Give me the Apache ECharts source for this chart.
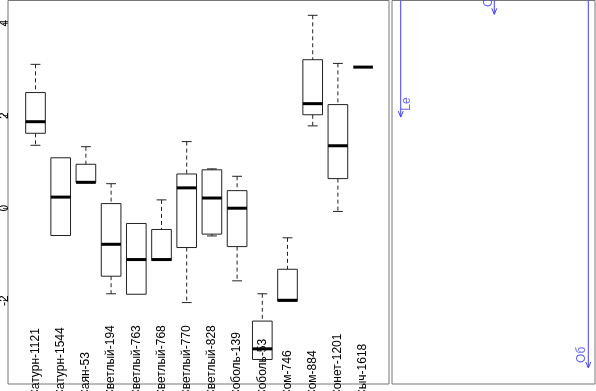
<!DOCTYPE html>
<html>
<head>
<meta charset="utf-8">
<script src="https://cdn.jsdelivr.net/npm/echarts@6/dist/echarts.min.js"></script>
<style>
  html, body { margin: 0; padding: 0; background: #fff; }
  #chart { width: 596px; height: 391px; }
</style>
</head>
<body>
<div id="chart"></div>
<script>
// box plot per sample
const names = ['Сатурн-1121', 'Сатурн-1544', 'Саян-53', 'Светлый-194', 'Светлый-763', 'Светлый-768',
  'Светлый-770', 'Светлый-828', 'Соболь-139', 'Соболь-53', 'Сом-746', 'Сом-884', 'Сонет-1201', 'Сыч-1618']
const whiskerLow = [1.36, -0.59, 0.55, -1.85, -1.86, -1.13, -2.04, -0.60, -1.57, -3.27, -2.01, 1.78, -0.07, 3.05]
const q1 = [1.62, -0.59, 0.55, -1.47, -1.86, -1.13, -0.85, -0.56, -0.83, -3.27, -2.01, 2.02, 0.64, 3.05]
const median = [1.87, 0.24, 0.56, -0.78, -1.11, -1.11, 0.44, 0.22, 0.00, -3.04, -1.99, 2.26, 1.35, 3.05]
const q3 = [2.50, 1.09, 0.95, 0.10, -0.33, -0.46, 0.74, 0.83, 0.38, -2.44, -1.32, 3.21, 2.24, 3.05]
const whiskerHigh = [3.11, 1.09, 1.33, 0.53, -0.33, 0.18, 1.44, 0.85, 0.69, -1.85, -0.64, 4.17, 3.13, 3.05]
const yTicks = [-2, 0, 2, 4]

// arrows in the right panel
const arrowNames = ['Le', 'О', 'Об']
const arrowX = [0.043, 0.504, 0.967]
const arrowEnd = [0.304, 0.036, 0.958]
const arrowLabelX = [0.072, 0.478, 0.936]
const arrowLabelY = [0.27, 0.005, 0.924]

const Y_MIN = -3.8
const Y_MAX = 4.49
const boxColor = '#222'
const blue = '#4040f0'

const chart = echarts.init(document.getElementById('chart'))

function renderBox(params, api) {
  const i = api.value(0)
  const lo = api.coord([i, api.value(1)])
  const b1 = api.coord([i, api.value(2)])
  const md = api.coord([i, api.value(3)])
  const b3 = api.coord([i, api.value(4)])
  const hi = api.coord([i, api.value(5)])
  const w = api.size([1, 0])[0] * 0.78
  const x = lo[0]
  const cap = w / 4
  const dash = { stroke: boxColor, lineWidth: 1, lineDash: [4, 3] }
  const solid = { stroke: boxColor, lineWidth: 1 }
  const children = []
  if (hi[1] < b3[1] - 0.5) {
    children.push({ type: 'line', shape: { x1: x, y1: hi[1], x2: x, y2: b3[1] }, style: dash })
    children.push({ type: 'line', shape: { x1: x - cap, y1: hi[1], x2: x + cap, y2: hi[1] }, style: solid })
  }
  if (lo[1] > b1[1] + 0.5) {
    children.push({ type: 'line', shape: { x1: x, y1: b1[1], x2: x, y2: lo[1] }, style: dash })
    children.push({ type: 'line', shape: { x1: x - cap, y1: lo[1], x2: x + cap, y2: lo[1] }, style: solid })
  }
  if (b1[1] - b3[1] > 0.5) {
    children.push({
      type: 'rect',
      shape: { x: x - w / 2, y: b3[1], width: w, height: b1[1] - b3[1] },
      style: { fill: null, stroke: boxColor, lineWidth: 1 }
    })
  }
  children.push({
    type: 'line',
    shape: { x1: x - w / 2, y1: md[1], x2: x + w / 2, y2: md[1] },
    style: { stroke: '#000', lineWidth: 3 }
  })
  return { type: 'group', children }
}

function renderArrow(params, api) {
  const s = api.coord([api.value(0), 0])
  const e = api.coord([api.value(0), api.value(1)])
  const h = 6
  return {
    type: 'group',
    children: [
      { type: 'line', shape: { x1: s[0], y1: s[1], x2: e[0], y2: e[1] }, style: { stroke: blue, lineWidth: 1 } },
      { type: 'polyline', shape: { points: [[e[0] - 2.5, e[1] - h], [e[0], e[1]], [e[0] + 2.5, e[1] - h]] },
        style: { stroke: blue, lineWidth: 1, fill: null } }
    ]
  }
}

chart.setOption({
  animation: false,
  textStyle: { fontFamily: 'Liberation Sans, Arial, sans-serif' },
  grid: [
    { left: 8, right: 207, top: 0.5, bottom: 7, outerBoundsMode: 'none', show: true, borderColor: '#777', borderWidth: 1, backgroundColor: 'transparent' },
    { left: 22.9, right: 220.3, top: 0.5, bottom: 7, outerBoundsMode: 'none' },
    { left: 392, right: 1, top: 0.5, bottom: 7, outerBoundsMode: 'none', show: true, borderColor: '#777', borderWidth: 1 }
  ],
  xAxis: [
    { gridIndex: 0, type: 'value', min: 0, max: 1, show: false },
    {
      gridIndex: 1,
      type: 'category',
      data: names,
      axisLine: { show: false },
      axisTick: { show: false },
      axisLabel: {
        interval: 0,
        rotate: 90,
        inside: true,
        margin: -14,
        fontSize: 12,
        color: '#000'
      }
    },
    { gridIndex: 2, type: 'value', min: 0, max: 1, show: false }
  ],
  yAxis: [
    {
      gridIndex: 0,
      type: 'value',
      min: Y_MIN,
      max: Y_MAX,
      axisLine: { show: false },
      splitLine: { show: false },
      axisTick: { show: true, customValues: yTicks, length: 5, lineStyle: { color: '#555' } },
      axisLabel: { customValues: yTicks, rotate: 90, margin: -3, fontSize: 12, color: '#000' }
    },
    { gridIndex: 1, type: 'value', min: Y_MIN, max: Y_MAX, show: false },
    { gridIndex: 2, type: 'value', min: 0, max: 1, inverse: true, show: false }
  ],
  series: [
    {
      type: 'custom',
      xAxisIndex: 1,
      yAxisIndex: 1,
      renderItem: renderBox,
      data: names.map((n, i) => [i, whiskerLow[i], q1[i], median[i], q3[i], whiskerHigh[i]])
    },
    {
      type: 'custom',
      xAxisIndex: 2,
      yAxisIndex: 2,
      renderItem: renderArrow,
      data: arrowX.map((x, i) => [x, arrowEnd[i]])
    },
    {
      type: 'scatter',
      xAxisIndex: 2,
      yAxisIndex: 2,
      symbolSize: 0,
      clip: false,
      data: arrowNames.map((n, i) => ({ name: n, value: [arrowLabelX[i], arrowLabelY[i]] })),
      label: {
        show: true,
        position: 'inside',
        rotate: 90,
        formatter: (p) => p.name,
        fontSize: 12,
        color: blue
      }
    }
  ]
})
</script>
</body>
</html>
